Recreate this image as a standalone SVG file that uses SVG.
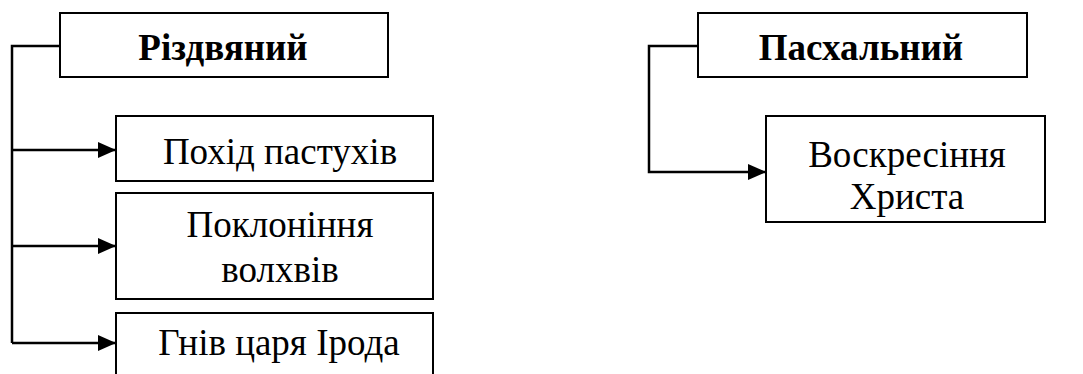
<svg xmlns="http://www.w3.org/2000/svg" width="1083" height="374" viewBox="0 0 1083 374">
<defs>
<style>
.box{fill:#fff;stroke:#000;stroke-width:2}
text{font-family:"Liberation Serif","Times New Roman",Times,serif;font-size:37px;fill:#000;text-anchor:middle}
.b{font-weight:bold}
.c{fill:none;stroke:#000;stroke-width:2.5}
</style>
<marker id="ah" markerWidth="18" markerHeight="16" refX="17" refY="8" orient="auto" markerUnits="userSpaceOnUse">
<path d="M0,0 L18,8 L0,16 Z" fill="#000"/>
</marker>
</defs>
<g id="connectors">
<path class="c" d="M60,46 H12 V343"/>
<path class="c" d="M12,150 H115" marker-end="url(#ah)"/>
<path class="c" d="M12,246 H115" marker-end="url(#ah)"/>
<path class="c" d="M12,343 H115" marker-end="url(#ah)"/>
<path class="c" d="M698,46 H649 V172 H765" marker-end="url(#ah)"/>
</g>
<g id="n-rizdvianyi">
<rect class="box" x="60" y="13" width="328" height="64"/>
<text class="b" x="223" y="60">Різдвяний</text>
</g>
<g id="n-pokhid">
<rect class="box" x="116" y="116" width="317" height="65"/>
<text x="280" y="164">Похід пастухів</text>
</g>
<g id="n-pokloninnia">
<rect class="box" x="116" y="193" width="317" height="106"/>
<text x="280" y="237">Поклоніння</text>
<text x="280" y="282">волхвів</text>
</g>
<g id="n-gniv">
<rect class="box" x="116" y="313" width="317" height="70"/>
<text x="279" y="355">Гнів царя Ірода</text>
</g>
<g id="n-paskhalnyi">
<rect class="box" x="698" y="13" width="329" height="64"/>
<text class="b" x="861" y="60">Пасхальний</text>
</g>
<g id="n-voskresinnia">
<rect class="box" x="766" y="116" width="279" height="106"/>
<text x="907" y="167">Воскресіння</text>
<text x="907" y="209">Христа</text>
</g>
</svg>
